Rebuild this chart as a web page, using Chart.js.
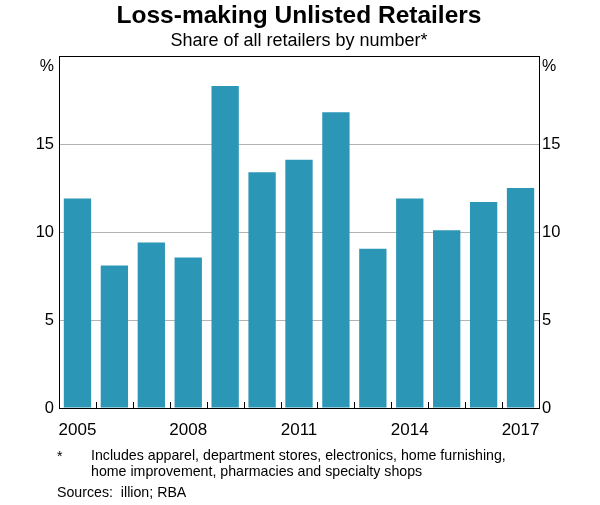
<!DOCTYPE html>
<html>
<head>
<meta charset="utf-8">
<script src="https://cdn.jsdelivr.net/npm/chart.js@4"></script>
<style>
  html, body { margin: 0; padding: 0; background: #fff; }
  #wrap { width: 600px; height: 505px; position: relative; }
</style>
</head>
<body>
<div id="wrap"><canvas id="myChart"></canvas></div>
<script>
// data
let years = ['2005','2006','2007','2008','2009','2010','2011','2012','2013','2014','2015','2016','2017'];
let lossShare = [11.9, 8.1, 9.4, 8.55, 18.3, 13.4, 14.1, 16.8, 9.05, 11.9, 10.1, 11.7, 12.5];
let yTicks = [0, 5, 10, 15, 20];

let FONT = 'Arial, "Liberation Sans", sans-serif';

// titles, % labels, inner x ticks, footnotes
let decorPlugin = {
  id: 'decor',
  afterDraw(chart) {
    let ctx = chart.ctx;
    let a = chart.chartArea;
    let x = chart.scales.x;
    ctx.save();
    ctx.fillStyle = '#000';
    ctx.textAlign = 'center';
    ctx.textBaseline = 'alphabetic';
    ctx.font = 'bold 24.5px ' + FONT;
    ctx.fillText('Loss-making Unlisted Retailers', 299, 23);
    ctx.font = '18px ' + FONT;
    ctx.fillText('Share of all retailers by number*', 299, 46);

    // % labels
    ctx.font = '16px ' + FONT;
    ctx.textAlign = 'right';
    ctx.fillText('%', a.left - 5, 71);
    ctx.textAlign = 'left';
    ctx.fillText('%', a.right + 3, 71);

    // small ticks between bars
    ctx.strokeStyle = '#000';
    ctx.lineWidth = 1;
    ctx.beginPath();
    for (let i = 1; i < years.length; i++) {
      let px = Math.round((x.getPixelForValue(i - 1) + x.getPixelForValue(i)) / 2) + 0.5;
      ctx.moveTo(px, a.bottom);
      ctx.lineTo(px, a.bottom - 6);
    }
    ctx.stroke();

    // footnotes
    ctx.font = '14.2px ' + FONT;
    ctx.textAlign = 'left';
    ctx.fillText('*', 57, 461);
    ctx.fillText('Includes apparel, department stores, electronics, home furnishing,', 91, 460);
    ctx.fillText('home improvement, pharmacies and specialty shops', 91, 476);
    ctx.fillText('Sources:  illion; RBA', 57, 497);
    ctx.restore();
  }
};

let ctx1 = document.getElementById('myChart').getContext('2d');

let chart1 = new Chart(ctx1, {
  type: 'bar',
  data: {
    labels: years,
    datasets: [{
      label: 'Loss-making unlisted retailers',
      data: lossShare,
      backgroundColor: '#2B96B6',
      borderWidth: 0,
      barPercentage: 0.74,
      categoryPercentage: 1.0,
      yAxisID: 'y'
    }]
  },
  options: {
    responsive: true,
    maintainAspectRatio: false,
    animation: false,
    devicePixelRatio: 1,
    layout: { padding: { top: 56, left: 0, right: 0, bottom: 0 } },
    plugins: {
      legend: { display: false },
      tooltip: { enabled: false }
    },
    scales: {
      x: {
        offset: true,
        grid: { display: false },
        border: { display: true, color: '#000', width: 1 },
        ticks: {
          autoSkip: false,
          maxRotation: 0,
          padding: 4,
          color: '#000',
          font: { family: FONT, size: 17 },
          callback: function(val, i) { return i % 3 === 0 ? years[i] : ''; }
        },
        afterFit: function(s) { s.height = 97; }
      },
      y: {
        position: 'left',
        min: 0,
        max: 20,
        afterBuildTicks: function(s) { s.ticks = yTicks.map(v => ({ value: v })); },
        grid: {
          drawTicks: false,
          color: function(c) {
            if (c.tick.value === 20) return '#000';
            if (c.tick.value === 0) return 'rgba(0,0,0,0)';
            return '#b3b3b3';
          }
        },
        border: { display: true, color: '#000', width: 1 },
        ticks: {
          padding: 5,
          color: '#000',
          font: { family: FONT, size: 16.5 },
          callback: function(v) { return v === 20 ? '' : v; }
        },
        afterFit: function(s) { s.width = 59; }
      },
      y2: {
        position: 'right',
        min: 0,
        max: 20,
        afterBuildTicks: function(s) { s.ticks = yTicks.map(v => ({ value: v })); },
        grid: { display: false, drawTicks: false },
        border: { display: true, color: '#000', width: 1 },
        ticks: {
          padding: 3,
          color: '#000',
          font: { family: FONT, size: 16.5 },
          callback: function(v) { return v === 20 ? '' : v; }
        },
        afterFit: function(s) { s.width = 61; }
      }
    }
  },
  plugins: [decorPlugin]
});
</script>
</body>
</html>
